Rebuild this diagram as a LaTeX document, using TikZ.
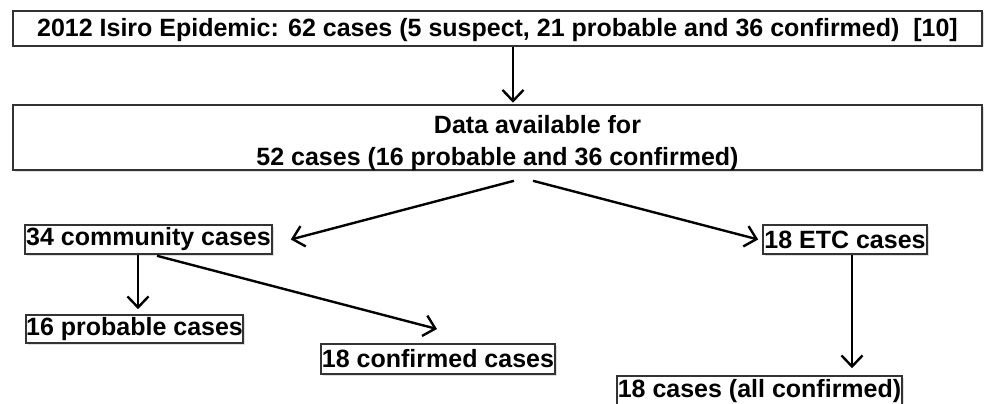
\documentclass[tikz,border=0pt]{standalone}
\usepackage{fontspec}
\setmainfont{Liberation Sans}
\usetikzlibrary{arrows.meta,shadows}
\begin{document}
\begin{tikzpicture}[x=1pt,y=-1pt,
  box/.style={draw=black!80, line width=1.6pt, fill=white, inner sep=0pt,
    font=\fontsize{25}{32}\selectfont\bfseries, align=center,
    drop shadow={opacity=0.25, shadow xshift=1.5pt, shadow yshift=-1.5pt}},
  arr/.style={draw=black, line width=2.4pt, -{Straight Barb[length=11pt,width=21pt,line width=2.4pt]}}]
\useasboundingbox[fill=white] (0,0) rectangle (990,404);
\node[box, minimum width=969, minimum height=35] (b1) at (497.5,28.5)
  {\raisebox{-2pt}[\height][\depth]{2012 Isiro Epidemic: 62 cases (5 suspect, 21 probable and 36 confirmed)\ \ [10]}};
\node[box, minimum width=969, minimum height=65] (b2) at (497.5,137.5)
  {\raisebox{-6pt}[\height][\depth]{\begin{tabular}{@{}c@{}}\hspace*{80pt}Data available for\\52 cases (16 probable and 36 confirmed)\end{tabular}}};
\node[box, minimum width=247, minimum height=29] (com) at (148.5,239.5) {34 community cases};
\node[box, minimum width=217, minimum height=28] (prob) at (134.5,329) {16 probable cases};
\node[box, minimum width=234, minimum height=30] (conf) at (438,359) {18 confirmed cases};
\node[box, minimum width=164, minimum height=29] (etc) at (845,239.5) {18 ETC cases};
\node[box, minimum width=285, minimum height=30] (all) at (759.5,391) {18 cases (all confirmed)};
% connector end points (yshift is in page direction: positive = up)
\coordinate (s1) at ([xshift=15.5]b1.south);
\coordinate (e1) at ([xshift=15.5,yshift=1.5]b2.north);
\coordinate (s2) at ([xshift=16.5,yshift=-10]b2.south);
\coordinate (e2) at ([xshift=18]com.east);
\coordinate (s3) at ([xshift=35.5,yshift=-10]b2.south);
\coordinate (e3) at ([xshift=-4]etc.west);
\coordinate (s4) at ([xshift=-10.5]com.south);
\coordinate (e4) at ([xshift=3.5,yshift=5]prob.north);
\coordinate (s5) at ([xshift=8.5,yshift=-1]com.south);
\coordinate (e5) at (437,329);
\coordinate (s6) at ([xshift=7]etc.south);
\coordinate (e6) at ([xshift=92.5,yshift=7]all.north);
\draw[arr] (s1) -- (e1);
\draw[arr] (s2) -- (e2);
\draw[arr] (s3) -- (e3);
\draw[arr] (s4) -- (e4);
\draw[arr] (s5) -- (e5);
\draw[arr] (s6) -- (e6);
\end{tikzpicture}
\end{document}
